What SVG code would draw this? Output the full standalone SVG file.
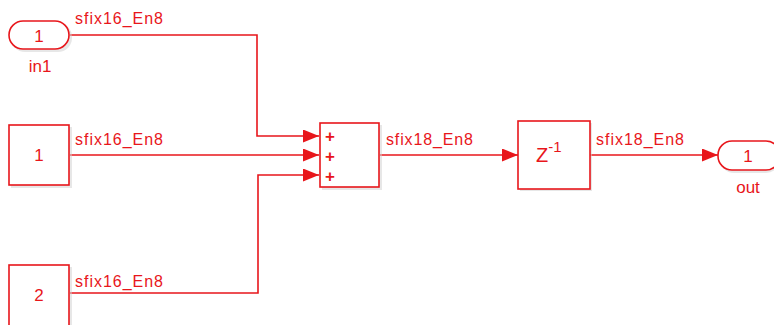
<svg xmlns="http://www.w3.org/2000/svg" width="774" height="325" viewBox="0 0 774 325">
<defs>
<style>
.blk{fill:#fff;stroke:#e8161b;stroke-width:1.6}
.sh{fill:#cfcfcf;opacity:0.5}
.ln{fill:none;stroke:#e8161b;stroke-width:1.6}
.t{font-family:"Liberation Sans",Arial,sans-serif;fill:#e8161b}
.lbl{font-size:16px}
.num{font-size:17px;text-anchor:middle}
.plus{font-size:17px;font-weight:bold;text-anchor:middle}
</style>
<marker id="arr" viewBox="0 0 16 13" refX="16" refY="6.5" markerWidth="16" markerHeight="13" markerUnits="userSpaceOnUse" orient="auto">
<path d="M0,0 L16,6.5 L0,13 Z" fill="#e8161b"/>
</marker>
</defs>
<rect width="774" height="325" fill="#fff"/>
<g id="connectors">
<polyline class="ln" points="70,35 257,35 257,136 319,136" marker-end="url(#arr)"/>
<polyline class="ln" points="70,155 319,155" marker-end="url(#arr)"/>
<polyline class="ln" points="70,293 258,293 258,175 319,175" marker-end="url(#arr)"/>
<polyline class="ln" points="380,155 518,155" marker-end="url(#arr)"/>
<polyline class="ln" points="590,155 718,155" marker-end="url(#arr)"/>
<text class="t lbl" x="75" y="24" textLength="88">sfix16_En8</text>
<text class="t lbl" x="75" y="145" textLength="88">sfix16_En8</text>
<text class="t lbl" x="75" y="287" textLength="88">sfix16_En8</text>
<text class="t lbl" x="386" y="145" textLength="87">sfix18_En8</text>
<text class="t lbl" x="596" y="145" textLength="88">sfix18_En8</text>
</g>
<g id="in1">
<rect class="sh" x="11" y="23" width="61" height="29" rx="14"/>
<rect class="blk" x="9" y="21" width="60" height="28" rx="14"/>
<text class="t num" x="39" y="42">1</text>
<text class="t num" x="40" y="72">in1</text>
</g>
<g id="const1">
<rect class="sh" x="11" y="127" width="61" height="61"/>
<rect class="blk" x="9" y="125" width="60" height="60"/>
<text class="t num" x="39" y="161">1</text>
</g>
<g id="const2">
<rect class="sh" x="11" y="267" width="61" height="61"/>
<rect class="blk" x="9" y="265" width="60" height="62"/>
<text class="t num" x="39" y="301">2</text>
</g>
<g id="sum">
<rect class="sh" x="322" y="125" width="60" height="65"/>
<rect class="blk" x="320" y="123" width="59" height="64"/>
<text class="t plus" x="330" y="142">+</text>
<text class="t plus" x="330" y="162">+</text>
<text class="t plus" x="330" y="182">+</text>
</g>
<g id="delay">
<rect class="sh" x="520" y="123" width="72" height="68"/>
<rect class="blk" x="518" y="121" width="72" height="68"/>
<text class="t" x="536" y="162" style="font-size:20px">Z<tspan dy="-10" style="font-size:15px">-1</tspan></text>
</g>
<g id="out">
<rect class="sh" x="720" y="143" width="60" height="30" rx="14"/>
<rect class="blk" x="718" y="141" width="62" height="29" rx="14"/>
<text class="t num" x="748" y="162">1</text>
<text class="t num" x="748" y="193">out</text>
</g>
</svg>
